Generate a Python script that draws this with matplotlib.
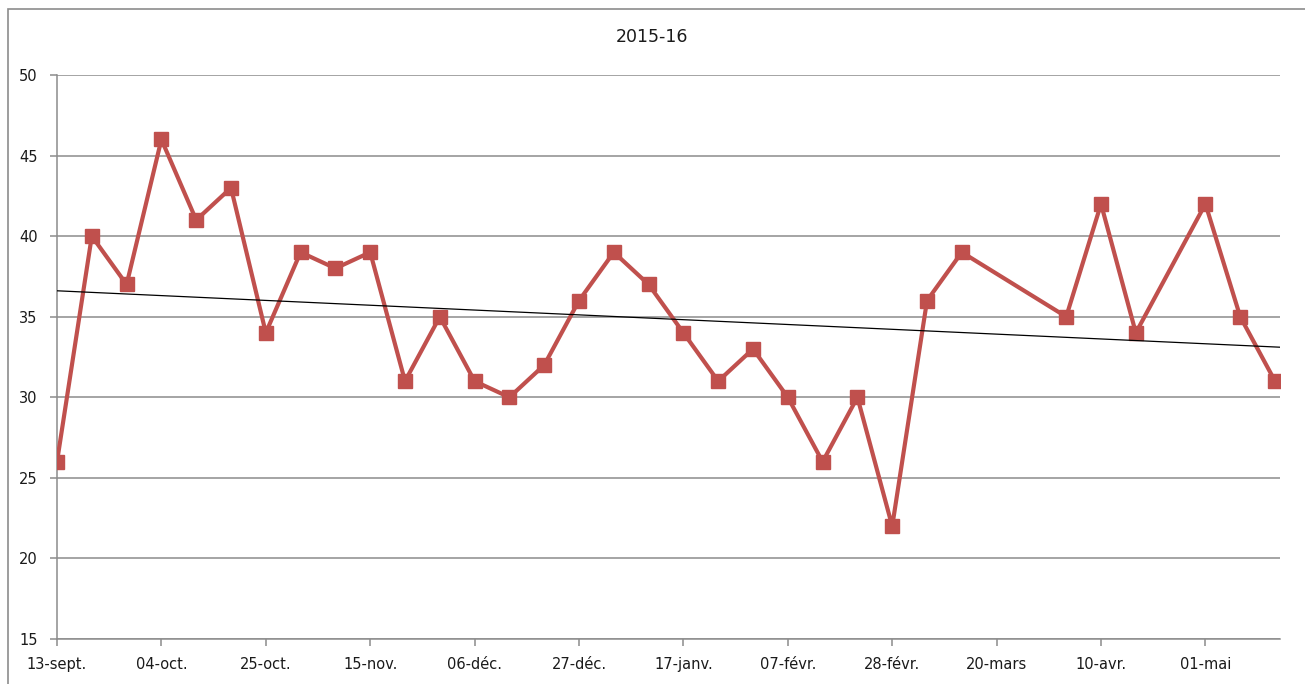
import numpy as np
import pandas as pd
import matplotlib
matplotlib.use("Agg")
import matplotlib.pyplot as plt
import matplotlib.dates as mdates
from matplotlib.patches import Rectangle

# weekly values (dates with gaps in March/April)
dates = pd.to_datetime([
    "2015-09-13", "2015-09-20", "2015-09-27", "2015-10-04", "2015-10-11",
    "2015-10-18", "2015-10-25", "2015-11-01", "2015-11-08", "2015-11-15",
    "2015-11-22", "2015-11-29", "2015-12-06", "2015-12-13", "2015-12-20",
    "2015-12-27", "2016-01-03", "2016-01-10", "2016-01-17", "2016-01-24",
    "2016-01-31", "2016-02-07", "2016-02-14", "2016-02-21", "2016-02-28",
    "2016-03-06", "2016-03-13", "2016-04-03", "2016-04-10", "2016-04-17",
    "2016-05-01", "2016-05-08", "2016-05-15",
])
values = [26, 40, 37, 46, 41, 43, 34, 39, 38, 39, 31, 35, 31, 30, 32, 36,
          39, 37, 34, 31, 33, 30, 26, 30, 22, 36, 39, 35, 42, 34, 42, 35, 31]

tick_dates = pd.to_datetime([
    "2015-09-13", "2015-10-04", "2015-10-25", "2015-11-15", "2015-12-06",
    "2015-12-27", "2016-01-17", "2016-02-07", "2016-02-28", "2016-03-20",
    "2016-04-10", "2016-05-01",
])
tick_labels = ["13-sept.", "04-oct.", "25-oct.", "15-nov.", "06-déc.", "27-déc.",
               "17-janv.", "07-févr.", "28-févr.", "20-mars", "10-avr.", "01-mai"]
y_ticks = [15, 20, 25, 30, 35, 40, 45, 50]

W, H = 1305, 684
fig = plt.figure(figsize=(W / 100, H / 100), dpi=100)
fig.patch.set_facecolor("white")
# outer chart border (right/bottom edges fall outside the image)
fig.patches.append(Rectangle((8 / W, -10 / H), 1310 / W, (H + 10 - 9) / H,
                             transform=fig.transFigure, fill=False,
                             edgecolor="#8c8c8c", lw=1.2))

ax = fig.add_axes([57 / W, (H - 639) / H, (1280 - 57) / W, (639 - 75) / H])

x = mdates.date2num(dates)
ax.plot(x, values, color="#c0504d", lw=3.0, marker="s", markersize=9.5,
        markeredgecolor="#c0504d", markerfacecolor="#c0504d", zorder=3)

# linear trend line
coef = np.polyfit(x, values, 1)
x0 = mdates.date2num(pd.Timestamp("2015-09-13"))
x1 = mdates.date2num(pd.Timestamp("2016-05-16"))
xt = np.array([x0, x1])
ax.plot(xt, np.polyval(coef, xt), color="black", lw=0.9, zorder=4)

ax.set_xlim(x0, x1)
ax.set_ylim(15, 50)
ax.set_yticks(y_ticks)
ax.set_xticks(mdates.date2num(tick_dates))
ax.set_xticklabels(tick_labels)
ax.yaxis.grid(True, color="#8c8c8c", lw=1.1)
ax.set_axisbelow(True)

for side in ["top", "right"]:
    ax.spines[side].set_visible(False)
for side in ["left", "bottom"]:
    ax.spines[side].set_color("#8c8c8c")
    ax.spines[side].set_linewidth(1.1)
ax.tick_params(axis="both", colors="#8c8c8c", labelcolor="#1a1a1a", labelsize=10.5,
               length=5, width=1.1)
ax.tick_params(axis="y", pad=9)
ax.tick_params(axis="x", pad=8)

fig.text(652 / W, 1 - 37 / H, "2015-16", ha="center", va="center", fontsize=12.5,
         color="#1a1a1a")

fig.savefig("out.png", dpi=100)
